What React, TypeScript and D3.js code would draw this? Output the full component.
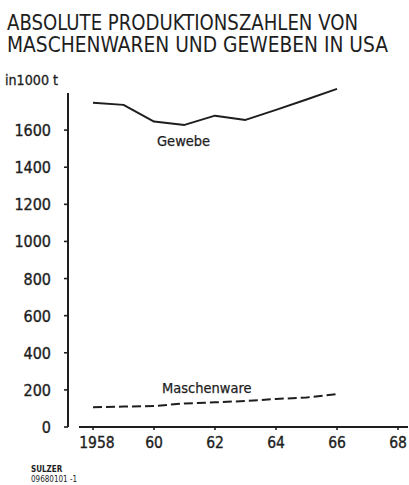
import React from "react";
import * as d3 from "d3";

const years = [1958, 1959, 1960, 1961, 1962, 1963, 1964, 1965, 1966];
const gewebe = [1748, 1736, 1646, 1628, 1678, 1655, 1709, 1765, 1822];
const maschenware = [106, 110, 113, 127, 133, 140, 151, 159, 178];
const yTicks = [0, 200, 400, 600, 800, 1000, 1200, 1400, 1600];
const xTicks = [1958, 1960, 1962, 1964, 1966, 1968];
const xTickLabels = ["1958", "60", "62", "64", "66", "68"];
const titleLines = ["ABSOLUTE PRODUKTIONSZAHLEN VON", "MASCHENWAREN UND GEWEBEN IN USA"];

const W = 409;
const H = 485;
const FONT = "'DejaVu Sans Condensed', 'DejaVu Sans', sans-serif";
const INK = "#1e1e1e";

export default function App() {
  const x = d3.scaleLinear().domain([1958, 1968]).range([93, 398]);
  const y = d3.scaleLinear().domain([0, 1800]).range([427, 93]);
  const line = d3
    .line<number>()
    .x((_, i) => x(years[i]))
    .y((d) => y(d));

  return (
    <svg
      width={W}
      height={H}
      style={{ position: "absolute", left: 0, top: 0, background: "#fff" }}
      fontFamily={FONT}
    >
      <rect x={0} y={0} width={W} height={H} fill="#fff" />
      <text x={7} y={30} fontSize={21} fill={INK} textLength={351} lengthAdjust="spacingAndGlyphs">
        {titleLines[0]}
      </text>
      <text x={7} y={52} fontSize={21} fill={INK} textLength={381} lengthAdjust="spacingAndGlyphs">
        {titleLines[1]}
      </text>
      <text x={5} y={85} fontSize={14} fill={INK} stroke={INK} strokeWidth={0.3} textLength={53} lengthAdjust="spacingAndGlyphs">
        in1000 t
      </text>

      {/* Y axis */}
      <line x1={68} x2={68} y1={y(1800)} y2={y(0)} stroke={INK} strokeWidth={2} />
      {yTicks.map((t) => (
        <g key={t}>
          <line x1={64} x2={68} y1={y(t)} y2={y(t)} stroke={INK} strokeWidth={1.6} />
          <text
            x={51}
            y={y(t) + 6}
            fontSize={16}
            fill={INK}
            stroke={INK}
            strokeWidth={0.35}
            textAnchor="end"
          >
            {t}
          </text>
        </g>
      ))}

      {/* X axis */}
      <line x1={79} x2={408} y1={y(0)} y2={y(0)} stroke={INK} strokeWidth={2} />
      {xTicks.map((t, i) => (
        <g key={t}>
          <line x1={x(t)} x2={x(t)} y1={y(0)} y2={y(0) + 3} stroke={INK} strokeWidth={1.6} />
          <text
            x={x(t) + (i === 0 ? 4 : 0)}
            y={448}
            fontSize={15.5}
            fill={INK}
            stroke={INK}
            strokeWidth={0.35}
            textAnchor="middle"
          >
            {xTickLabels[i]}
          </text>
        </g>
      ))}

      <path d={line(gewebe) || ""} fill="none" stroke={INK} strokeWidth={2} strokeLinejoin="round" />
      <path
        d={line(maschenware) || ""}
        fill="none"
        stroke={INK}
        strokeWidth={2}
        strokeDasharray="9 4"
      />

      <text x={157} y={146} fontSize={14.5} fill={INK} stroke={INK} strokeWidth={0.25}>
        Gewebe
      </text>
      <text x={162} y={393} fontSize={14.5} fill={INK} stroke={INK} strokeWidth={0.25}>
        Maschenware
      </text>

      <text x={31} y={472} fontSize={8} fontWeight="bold" fill={INK}>
        SULZER
      </text>
      <text x={31} y={482} fontSize={8} fill={INK}>
        09680101 -1
      </text>
    </svg>
  );
}
